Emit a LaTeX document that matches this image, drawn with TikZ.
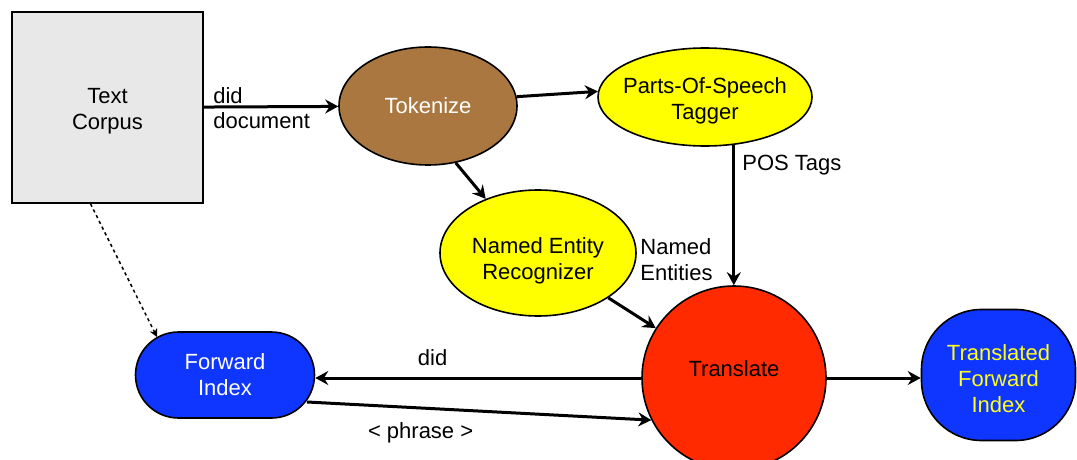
\documentclass[tikz,border=0pt]{standalone}
\usepackage{fontspec}
\setmainfont{Liberation Sans}
\usetikzlibrary{arrows.meta,shapes.geometric}

\definecolor{corpusgray}{HTML}{E8E8E8}
\definecolor{tokbrown}{HTML}{A9773F}
\definecolor{nodeyellow}{HTML}{FFFF00}
\definecolor{nodered}{HTML}{FF2A00}
\definecolor{nodeblue}{HTML}{0F36FF}
\definecolor{lightyellow}{HTML}{FFFF1A}

\tikzset{
  base/.style={draw=black, line width=0.8pt, inner sep=0pt, align=center,
    font=\fontsize{11}{13}\selectfont},
  boxnode/.style={base, rectangle, fill=corpusgray, minimum width=95.5pt, minimum height=95.5pt},
  ellnode/.style={base, ellipse},
  pill/.style={base, rectangle, fill=nodeblue},
  % caption placed at the shape centre, moved vertically by #1
  caption/.style 2 args={label={[font=\fontsize{11}{13}\selectfont, align=center,
    inner sep=0pt, yshift=#1]center:#2}},
  flow/.style={line width=1.5pt, -{Stealth[length=6.5pt,width=7pt,inset=2.2pt]}},
  source/.style={line width=0.75pt, dash pattern=on 1.6pt off 1.6pt,
    -{Stealth[length=4pt,width=4pt,inset=1.2pt]}},
  lbl/.style={font=\fontsize{11}{13}\selectfont, inner sep=2pt, align=left}
}

\begin{document}
\begin{tikzpicture}[x=0.5pt,y=-0.5pt]
\useasboundingbox (0,0) rectangle (1077,460);

% nodes
\node[boxnode, caption={-2pt}{Text\\Corpus}] (corpus) at (107.5,107.5) {};
\node[ellnode, fill=tokbrown, text=white, minimum width=89pt, minimum height=59pt]
  (tok) at (428,106) {Tokenize};
\node[ellnode, fill=nodeyellow, minimum width=107pt, minimum height=49pt,
  caption={-2pt}{Parts-Of-Speech\\Tagger}] (pos) at (705,97) {};
\node[ellnode, fill=nodeyellow, minimum width=98pt, minimum height=63pt,
  caption={-4pt}{Named Entity\\Recognizer}] (ner) at (538,253) {};
\node[base, circle, fill=nodered, minimum size=92pt, caption={4.5pt}{Translate}]
  (tr) at (734,378) {};
\node[pill, rounded corners=21.5pt, minimum width=89.5pt, minimum height=43pt,
  caption={0pt}{\color{white}Forward\\\color{white}Index}] (fwd) at (225,375) {};
\node[pill, rounded corners=30pt, minimum width=77pt, minimum height=65.5pt,
  caption={-2pt}{\color{lightyellow}Translated\\\color{lightyellow}Forward\\\color{lightyellow}Index}]
  (tfi) at (998.5,375) {};

% connectors
\draw[flow] (corpus) -- node[lbl, pos=0, anchor=south west, xshift=2pt, yshift=-1pt] {did}
  node[lbl, pos=0, anchor=north west, xshift=2pt] {document} (tok);
\draw[flow] (tok.6) -- (pos.177);
\draw[flow] (tok.-64) -- (ner.134);
\draw[flow] (pos.-59) -- node[lbl, pos=0.14, anchor=west, xshift=1.5pt] {POS Tags} (pos.-59 |- tr.north);
\draw[flow] (ner) -- (tr);
\node[lbl, anchor=north west] (nelbl) at (636,234) {Named\\Entities};
\draw[flow] (tr.west) -- node[lbl, pos=0.64, above=3.5pt] {did} (tr.west -| fwd.east);
\draw[flow] ([shift={(82,27)}]fwd.center) -- node[lbl, pos=0.33, below=4.5pt] {< phrase >} (tr.207);
\draw[flow] (tr.east) -- (tr.east -| tfi.west);
\draw[source] ([xshift=-8.5pt]corpus.south) -- ([shift={(-68,-38)}]fwd.center);
\end{tikzpicture}
\end{document}
